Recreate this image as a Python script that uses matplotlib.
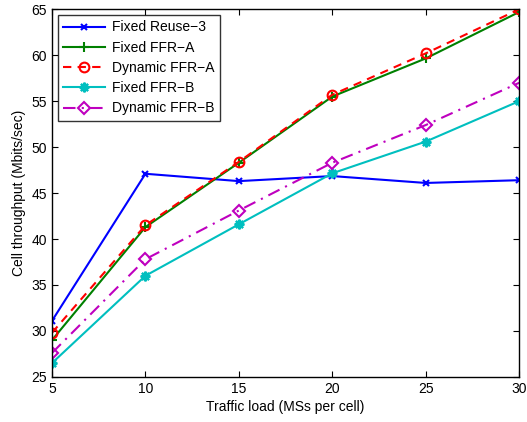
import matplotlib
matplotlib.use("Agg")
import matplotlib.pyplot as plt

plt.rcParams['font.family'] = ['Liberation Sans', 'DejaVu Sans']

load = [5, 10, 15, 20, 25, 30]
fixed_reuse3 = [31.1, 47.1, 46.3, 46.85, 46.1, 46.4]
fixed_ffr_a = [29.0, 41.3, 48.3, 55.5, 59.65, 64.7]
dynamic_ffr_a = [29.8, 41.5, 48.4, 55.7, 60.2, 65.0]
fixed_ffr_b = [26.5, 36.0, 41.6, 47.15, 50.6, 55.0]
dynamic_ffr_b = [27.6, 37.8, 43.1, 48.3, 52.4, 57.0]

x_ticks = [5, 10, 15, 20, 25, 30]
y_ticks = [25, 30, 35, 40, 45, 50, 55, 60, 65]

fig = plt.figure(figsize=(5.27, 4.22), dpi=100)
ax = fig.add_axes([0.0987, 0.107, 0.8863, 0.871])

lw = 1.5
ax.plot(load, fixed_reuse3, color=(0, 0, 1), lw=lw, marker='x', ms=5, mew=1.5, label='Fixed Reuse\u22123')
ax.plot(load, fixed_ffr_a, color=(0, 0.5, 0), lw=lw, marker='+', ms=7, mew=1.5, label='Fixed FFR\u2212A')
ax.plot(load, dynamic_ffr_a, color=(1, 0, 0), lw=lw, ls='--', dashes=(4, 3), marker='o', ms=7, mew=1.5,
        mfc='none', label='Dynamic FFR\u2212A')
ax.plot(load, fixed_ffr_b, color=(0, 0.75, 0.75), lw=lw, marker=(8, 2, 0), ms=7, mew=1.6, label='Fixed FFR\u2212B')
ax.plot(load, dynamic_ffr_b, color=(0.75, 0, 0.75), lw=lw, ls='-.', dashes=(6, 3, 1, 3), marker='D', ms=6.5, mew=1.5,
        mfc='none', label='Dynamic FFR\u2212B')

ax.set_xlim(5, 30)
ax.set_ylim(25, 65)
ax.set_xticks(x_ticks)
ax.set_yticks(y_ticks)
ax.tick_params(direction='in', top=True, right=True, labelsize=10, length=4)
for s in ax.spines.values():
    s.set_linewidth(1.0)
ax.set_xlabel('Traffic load (MSs per cell)', fontsize=10, labelpad=3)
ax.set_ylabel('Cell throughput (Mbits/sec)', fontsize=10, labelpad=4)

leg = ax.legend(loc='upper left', fontsize=10, frameon=True, fancybox=False, edgecolor='black',
                borderaxespad=0.4, handlelength=3.0, labelspacing=0.45, borderpad=0.4, handletextpad=0.5)
leg.get_frame().set_linewidth(1.0)

fig.savefig('out.png', dpi=100)
